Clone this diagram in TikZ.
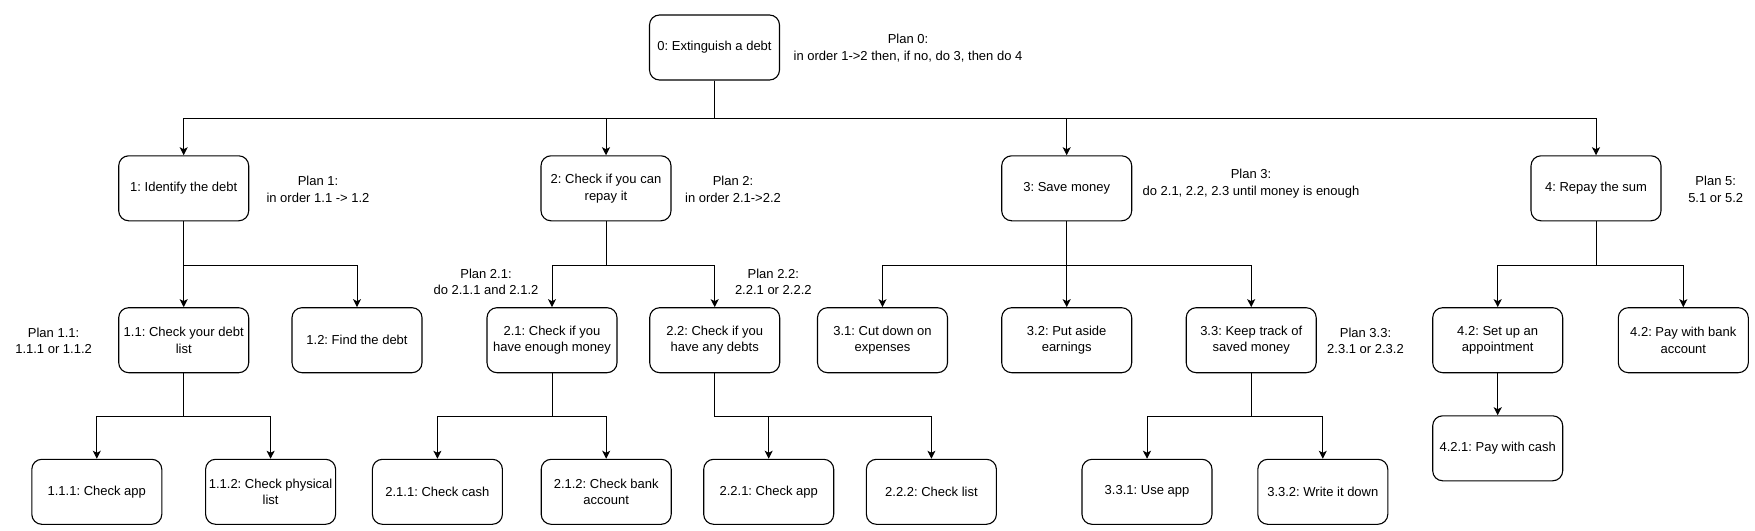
\documentclass[tikz,border=0pt]{standalone}
\usepackage{fontspec}
\setmainfont{Liberation Sans}
\usetikzlibrary{arrows.meta}
\begin{document}
\frenchspacing
\begin{tikzpicture}[x=1pt,y=-1pt,
  font=\fontsize{13}{16.7}\selectfont,
  box/.style={draw, line width=1.1pt, rounded corners=10pt, minimum width=130pt, minimum height=65pt, align=center, inner sep=2pt},
  plan/.style={align=center, inner sep=0pt},
  arr/.style={-{Stealth[length=8pt,width=8pt,inset=2pt]}, line width=1pt},
  ln/.style={line width=1pt}]
\useasboundingbox (0,0) rectangle (1755,530);
% row 0
\node[box] (n0) at (714.5,47.5) {0: Extinguish a debt};
% row 1
\node[box] (n1) at (183.7,188.3) {1: Identify the debt};
\node[box] (n2) at (606,188.3) {2: Check if you can\\repay it};
\node[box] (n3) at (1066.7,188.3) {3: Save money};
\node[box] (n4) at (1596,188.3) {4: Repay the sum};
% row 2
\node[box] (n11) at (183.7,340.2) {1.1: Check your debt\\list};
\node[box] (n12) at (357,340.2) {1.2: Find the debt};
\node[box] (n21) at (552,340.2) {2.1: Check if you\\have enough money};
\node[box] (n22) at (714.7,340.2) {2.2: Check if you\\have any debts};
\node[box] (n31) at (882.5,340.2) {3.1: Cut down on\\expenses};
\node[box] (n32) at (1066.7,340.2) {3.2: Put aside\\earnings};
\node[box] (n33) at (1251.2,340.2) {3.3: Keep track of\\saved money};
\node[box] (n41) at (1497.7,340.2) {4.2: Set up an\\appointment};
\node[box] (n42) at (1683.3,340.2) {4.2: Pay with bank\\account};
% row 3
\node[box] (n111) at (96.8,491.8) {1.1.1: Check app};
\node[box] (n112) at (270.6,491.8) {1.1.2: Check physical\\list};
\node[box] (n211) at (437.4,491.8) {2.1.1: Check cash};
\node[box] (n212) at (606.2,491.8) {2.1.2: Check bank\\account};
\node[box] (n221) at (768.7,491.8) {2.2.1: Check app};
\node[box] (n222) at (931.4,491.8) {2.2.2: Check list};
\node[box] (n331) at (1147,491.8) {3.3.1: Use app};
\node[box] (n332) at (1322.8,491.8) {3.3.2: Write it down};
\node[box] (n421) at (1497.7,448.3) {4.2.1: Pay with cash};
% plans
\node[plan] (p0) at (908,48.3) {Plan 0:\\in order 1->2 then, if no, do 3, then do 4};
\node[plan] (p1) at (318,189.3) {Plan 1:\\in order 1.1 -> 1.2};
\node[plan] (p2) at (733,189.3) {Plan 2:\\in order 2.1->2.2};
\node[plan] (p3) at (1251,183.5) {Plan 3:\\do 2.1, 2.2, 2.3 until money is enough};
\node[plan] (p5) at (1715.7,189.3) {Plan 5:\\5.1 or 5.2};
\node[plan] (p11) at (53.6,340.8) {Plan 1.1:\\1.1.1 or 1.1.2};
\node[plan] (p21) at (486,281.7) {Plan 2.1:\\do 2.1.1 and 2.1.2};
\node[plan] (p22) at (773.3,281.7) {Plan 2.2:\\2.2.1 or 2.2.2};
\node[plan] (p33) at (1365.5,340.8) {Plan 3.3:\\2.3.1 or 2.3.2};
% connectors
\foreach \c in {n1,n2,n3,n4}
  \draw[arr] (n0.south) -- ++(0,37.7) -| (\c.north);
\foreach \c in {n11,n12}
  \draw[arr] (n1.south) -- ++(0,44) -| (\c.north);
\foreach \c in {n21,n22}
  \draw[arr] (n2.south) -- ++(0,44) -| (\c.north);
\foreach \c in {n31,n32,n33}
  \draw[arr] (n3.south) -- ++(0,44) -| (\c.north);
\foreach \c in {n41,n42}
  \draw[arr] (n4.south) -- ++(0,44) -| (\c.north);
\foreach \c in {n111,n112}
  \draw[arr] (n11.south) -- ++(0,43) -| (\c.north);
\foreach \c in {n211,n212}
  \draw[arr] (n21.south) -- ++(0,43) -| (\c.north);
\foreach \c in {n221,n222}
  \draw[arr] (n22.south) -- ++(0,43) -| (\c.north);
\foreach \c in {n331,n332}
  \draw[arr] (n33.south) -- ++(0,43) -| (\c.north);
\draw[arr] (n41.south) -- (n421.north);
\end{tikzpicture}
\end{document}
